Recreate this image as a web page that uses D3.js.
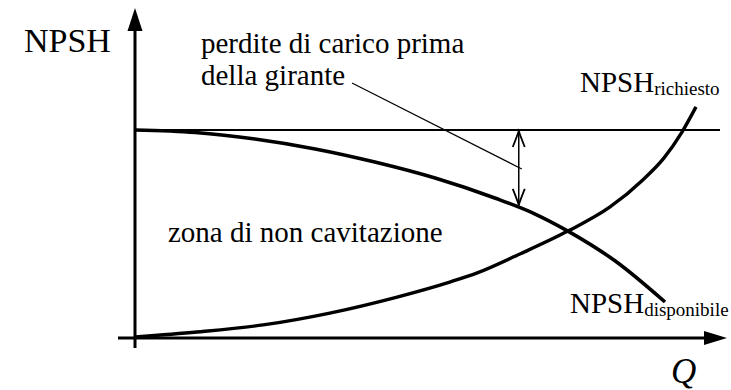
<!DOCTYPE html>
<html>
<head>
<meta charset="utf-8">
<script src="https://cdn.jsdelivr.net/npm/d3@7"></script>
<style>
  html, body { margin: 0; padding: 0; background: #fff; }
  svg { display: block; }
</style>
</head>
<body>
<svg id="chart" width="731" height="390"></svg>
<script>
// Portata Q (unità arbitrarie) e NPSH (unità arbitrarie)
const qDisponibile = [0, 10.3, 20.5, 30.8, 41.0, 51.3, 61.5, 68.4, 74.0, 82.1, 90.6];
const npshDisponibile = [100, 98.8, 95.7, 90.9, 84.6, 76.9, 67.3, 59.6, 51.4, 37.0, 17.3];

const qRichiesto = [0, 10.6, 21.9, 33.3, 44.8, 53.8, 58.5, 65.8, 74.0, 81.2, 86.8, 90.4, 93.5, 95.9];
const npshRichiesto = [0.5, 2.9, 6.3, 12.0, 19.7, 26.9, 31.3, 40.4, 51.4, 63.0, 76.0, 86.5, 99.0, 111.1];

// livello di riferimento (senza perdite) e perdite di carico prima della girante
const npshRiferimento = 100;
const qPerdite = 65.6;
const npshPerditeFine = 64.0;

const serif = "'Liberation Serif', 'Times New Roman', Times, Tinos, 'Nimbus Roman', 'DejaVu Serif', 'Noto Serif', serif";

const svg = d3.select("#chart");

const x = d3.scaleLinear().domain([0, 100]).range([135, 720]);
const y = d3.scaleLinear().domain([0, 100]).range([338, 130]);

const ink = "#000";

// assi con frecce
const x0 = x(0), y0 = y(0);
svg.append("line")
  .attr("x1", x0).attr("y1", y0 + 10).attr("x2", x0).attr("y2", 20)
  .attr("stroke", ink).attr("stroke-width", 3);
svg.append("path")
  .attr("d", `M${x0},8 L${x0 - 7.5},31 L${x0 + 7.5},31 Z`)
  .attr("fill", ink);
svg.append("line")
  .attr("x1", x0 - 17).attr("y1", y0).attr("x2", 712).attr("y2", y0)
  .attr("stroke", ink).attr("stroke-width", 3);
svg.append("path")
  .attr("d", `M727,${y0} L704,${y0 - 7} L704,${y0 + 7} Z`)
  .attr("fill", ink);

// linea orizzontale di riferimento
svg.append("line")
  .attr("x1", x0).attr("y1", y(npshRiferimento))
  .attr("x2", x(100)).attr("y2", y(npshRiferimento))
  .attr("stroke", ink).attr("stroke-width", 2);

const line = d3.line()
  .x(d => x(d[0])).y(d => y(d[1]))
  .curve(d3.curveMonotoneX);

svg.append("path")
  .datum(qDisponibile.map((q, i) => [q, npshDisponibile[i]]))
  .attr("d", line)
  .attr("fill", "none").attr("stroke", ink).attr("stroke-width", 3.6);

svg.append("path")
  .datum(qRichiesto.map((q, i) => [q, npshRichiesto[i]]))
  .attr("d", line)
  .attr("fill", "none").attr("stroke", ink).attr("stroke-width", 3.4);

// freccia doppia delle perdite
const ax = x(qPerdite), aTop = y(npshRiferimento) + 1, aBot = y(npshPerditeFine);
svg.append("line")
  .attr("x1", ax).attr("y1", aTop).attr("x2", ax).attr("y2", aBot)
  .attr("stroke", ink).attr("stroke-width", 1.5);
svg.append("path")
  .attr("d", `M${ax - 6},${aTop + 16} Q${ax - 2},${aTop + 6} ${ax},${aTop} Q${ax + 2},${aTop + 6} ${ax + 6},${aTop + 16}`)
  .attr("fill", "none").attr("stroke", ink).attr("stroke-width", 1.8);
svg.append("path")
  .attr("d", `M${ax - 6},${aBot - 16} Q${ax - 2},${aBot - 6} ${ax},${aBot} Q${ax + 2},${aBot - 6} ${ax + 6},${aBot - 16}`)
  .attr("fill", "none").attr("stroke", ink).attr("stroke-width", 1.8);

// linea di richiamo dell'etichetta
svg.append("line")
  .attr("x1", 352).attr("y1", 83).attr("x2", ax + 3).attr("y2", 169)
  .attr("stroke", ink).attr("stroke-width", 1.2);

// testi
function label(xp, yp, size, str) {
  return svg.append("text")
    .attr("x", xp).attr("y", yp)
    .attr("font-family", serif).attr("font-size", size)
    .attr("fill", ink).text(str);
}

label(24, 52, 34, "NPSH");
label(201, 53, 29, "perdite di carico prima");
label(201, 85, 29, "della girante");
label(168, 242, 29, "zona di non cavitazione");

const tR = label(580, 92, 29, null);
tR.append("tspan").text("NPSH");
tR.append("tspan").attr("font-size", 19).attr("dy", 3).text("richiesto");

const tD = label(570, 313, 29, null);
tD.append("tspan").text("NPSH");
tD.append("tspan").attr("font-size", 19).attr("dy", 3).text("disponibile");

label(671, 383, 35, "Q").attr("font-style", "italic");
</script>
</body>
</html>
